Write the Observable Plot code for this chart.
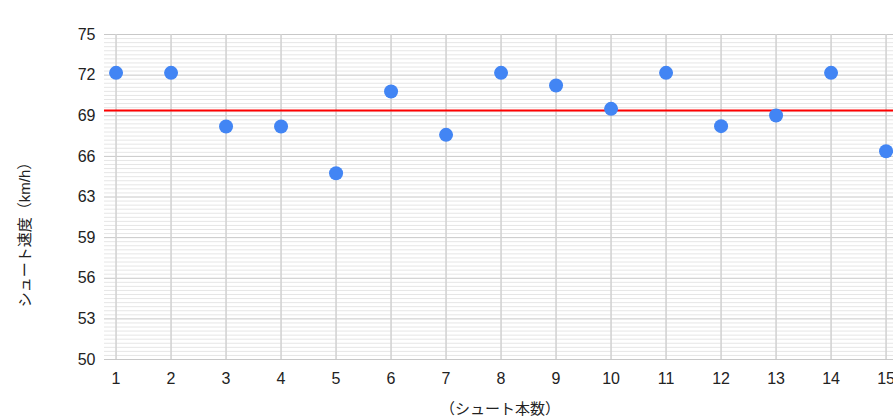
<!DOCTYPE html>
<html>
<head>
<meta charset="utf-8">
<script src="https://cdn.jsdelivr.net/npm/d3@7"></script>
<script src="https://cdn.jsdelivr.net/npm/@observablehq/plot@0.6"></script>
<style>
  html, body { margin: 0; padding: 0; background: #fff; overflow: hidden; }
</style>
</head>
<body>
<div id="chart"></div>
<script>
// Data
const shots = [1, 2, 3, 4, 5, 6, 7, 8, 9, 10, 11, 12, 13, 14, 15];
const speeds = [72.05, 72.05, 67.92, 67.92, 64.33, 70.62, 67.28, 72.05, 71.08, 69.28, 72.05, 67.95, 68.77, 72.05, 66.02];
const averageSpeed = [69.15];
const yTicks = [50, 53.125, 56.25, 59.375, 62.5, 65.625, 68.75, 71.875, 75];
const yTickLabels = ["50", "53", "56", "59", "63", "66", "69", "72", "75"];
const yMinorTicks = d3.range(0, 81).map(i => 50 + i * 0.3125).filter(v => !yTicks.some(t => Math.abs(t - v) < 1e-9));
const xTitle = "（シュート本数）";
const yTitle = "シュート速度（km/h）";

const data = shots.map((s, i) => ({shot: s, speed: speeds[i]}));
const labelFor = new Map(yTicks.map((t, i) => [t, yTickLabels[i]]));
const fontFamily = "'Liberation Sans', Arial, 'Noto Sans CJK JP', sans-serif";

const plot = Plot.plot({
  width: 893,
  height: 420,
  marginLeft: 104,
  marginRight: 0,
  marginTop: 34,
  marginBottom: 61,
  style: {
    fontFamily,
    fontSize: "16px",
    color: "#222",
    background: "#fff"
  },
  x: {
    domain: [0.79, 15.135],
    ticks: shots,
    tickFormat: d => String(d),
    tickSize: 0,
    tickPadding: 13,
    label: null
  },
  y: {
    domain: [50, 75],
    ticks: yTicks,
    tickFormat: d => labelFor.get(d),
    tickSize: 0,
    tickPadding: 9,
    label: null
  },
  marks: [
    Plot.ruleY(yMinorTicks, {stroke: "#e6e6e6", strokeWidth: 1}),
    Plot.ruleY(yTicks, {stroke: "#c8c8c8", strokeWidth: 1}),
    Plot.ruleX(shots, {stroke: "#d3d3d3", strokeWidth: 1.6}),
    Plot.ruleY(averageSpeed, {stroke: "#ff0000", strokeWidth: 2}),
    Plot.dot(data, {x: "shot", y: "speed", r: 7, fill: "#4285f4", stroke: "none"})
  ]
});

const svg = d3.select(plot);
svg.append("text")
  .attr("x", 500).attr("y", 414)
  .attr("text-anchor", "middle")
  .attr("fill", "#222")
  .style("font-family", fontFamily)
  .style("font-size", "15px")
  .text(xTitle);
svg.append("text")
  .attr("transform", "translate(30,231) rotate(-90)")
  .attr("text-anchor", "middle")
  .attr("fill", "#222")
  .style("font-family", fontFamily)
  .style("font-size", "15px")
  .text(yTitle);

document.getElementById("chart").appendChild(plot);
</script>
</body>
</html>
